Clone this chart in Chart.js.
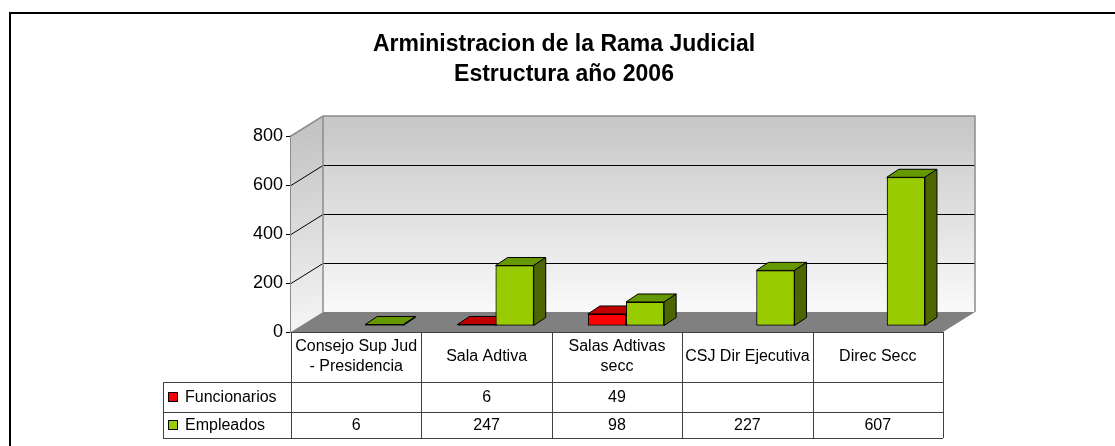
<!DOCTYPE html>
<html>
<head>
<meta charset="utf-8">
<script src="https://cdn.jsdelivr.net/npm/chart.js@4.4.1/dist/chart.umd.min.js"></script>
<style>
  body { margin: 0; background: #fff; }
</style>
</head>
<body>
<canvas id="myChart" width="1115" height="446"></canvas>
<script>
// datos del gráfico
const categories = [['Consejo Sup Jud', '- Presidencia'], 'Sala Adtiva', ['Salas Adtivas', 'secc'], 'CSJ Dir Ejecutiva', 'Direc Secc'];
const seriesNames = ['Funcionarios', 'Empleados'];
const funcionarios = [null, 6, 49, null, null];
const empleados = [6, 247, 98, 227, 607];
const yTicks = [0, 200, 400, 600, 800];
const titleLines = ['Arministracion de la Rama Judicial', 'Estructura año 2006'];

const FONT = 'Arial, "Liberation Sans", sans-serif';
const DEPTH_X = 32, DEPTH_Y = -20;  // profundidad de las paredes
const BAR_X = 9, BAR_Y = -6;        // desplazamiento del plano de barras
const BAR_DX = 12, BAR_DY = -8;     // profundidad de cada barra

const colors = {
  Funcionarios: { front: '#ff0000', top: '#c00000', side: '#800000' },
  Empleados: { front: '#99cc00', top: '#669900', side: '#4d6600' }
};

function poly(ctx, pts, fill, stroke) {
  ctx.beginPath();
  ctx.moveTo(pts[0][0], pts[0][1]);
  for (let i = 1; i < pts.length; i++) ctx.lineTo(pts[i][0], pts[i][1]);
  ctx.closePath();
  if (fill) { ctx.fillStyle = fill; ctx.fill(); }
  if (stroke) { ctx.strokeStyle = stroke; ctx.lineWidth = 1; ctx.stroke(); }
}

// paredes y piso
const wallsPlugin = {
  id: 'walls',
  beforeDatasetsDraw(chart) {
    const { ctx, chartArea: a, scales: { y } } = chart;
    const L = a.left, R = a.right, T = a.top, B = a.bottom;
    ctx.save();
    // pared lateral
    let g = ctx.createLinearGradient(L, T, L + DEPTH_X, B);
    g.addColorStop(0, '#c4c4c4');
    g.addColorStop(1, '#f6f6f6');
    poly(ctx, [[L, T], [L + DEPTH_X, T + DEPTH_Y], [L + DEPTH_X, B + DEPTH_Y], [L, B]], g);
    // pared del fondo
    g = ctx.createLinearGradient(0, T + DEPTH_Y, 0, B + DEPTH_Y);
    g.addColorStop(0, '#c6c6c6');
    g.addColorStop(1, '#fafafa');
    ctx.fillStyle = g;
    ctx.fillRect(L + DEPTH_X, T + DEPTH_Y, R - L, B - T);
    // lineas de division
    yTicks.forEach(v => {
      if (v === 0 || v === yTicks[yTicks.length - 1]) return;
      const py = Math.round(y.getPixelForValue(v)) + 0.5;
      ctx.beginPath();
      ctx.moveTo(L, py);
      ctx.lineTo(L + DEPTH_X, py + DEPTH_Y);
      ctx.lineTo(R + DEPTH_X, py + DEPTH_Y);
      ctx.strokeStyle = '#000';
      ctx.lineWidth = 1;
      ctx.stroke();
    });
    // borde de las paredes
    ctx.beginPath();
    ctx.moveTo(L, T);
    ctx.lineTo(L + DEPTH_X, T + DEPTH_Y);
    ctx.lineTo(R + DEPTH_X, T + DEPTH_Y);
    ctx.lineTo(R + DEPTH_X, B + DEPTH_Y);
    ctx.moveTo(L + DEPTH_X, T + DEPTH_Y);
    ctx.lineTo(L + DEPTH_X, B + DEPTH_Y);
    ctx.strokeStyle = '#8c8c8c';
    ctx.lineWidth = 1.5;
    ctx.stroke();
    // piso
    poly(ctx, [[L, B], [R, B], [R + DEPTH_X, B + DEPTH_Y], [L + DEPTH_X, B + DEPTH_Y]], '#808080');
    ctx.restore();
  }
};

// barras en 3D: se redibuja cada categoria de atras hacia adelante
const barsPlugin = {
  id: 'bars3d',
  beforeDatasetsDraw(chart) {
    chart.ctx.save();
    chart.ctx.translate(BAR_X, BAR_Y);
  },
  afterDatasetsDraw(chart) {
    const ctx = chart.ctx;
    categories.forEach((cat, i) => {
      chart.data.datasets.forEach((ds, d) => {
        if (ds.data[i] == null) return;
        const c = colors[ds.label];
        const bar = chart.getDatasetMeta(d).data[i];
        bar.draw(ctx);
        const l = bar.x - bar.width / 2, r = bar.x + bar.width / 2, t = bar.y, b = bar.base;
        poly(ctx, [[l, t], [r, t], [r + BAR_DX, t + BAR_DY], [l + BAR_DX, t + BAR_DY]], c.top, '#000');
        poly(ctx, [[r, t], [r + BAR_DX, t + BAR_DY], [r + BAR_DX, b + BAR_DY], [r, b]], c.side, '#000');
      });
    });
    ctx.restore();
  }
};

// tabla de datos
const tablePlugin = {
  id: 'dataTable',
  afterDraw(chart) {
    const { ctx, chartArea: a, scales: { x } } = chart;
    const step = x.getPixelForValue(1) - x.getPixelForValue(0);
    const top = a.bottom, headBottom = top + 50, row1 = headBottom + 30, row2 = row1 + 26;
    const legendLeft = a.left - 128;
    ctx.save();
    ctx.strokeStyle = '#404040';
    ctx.lineWidth = 1;
    ctx.beginPath();
    ctx.moveTo(a.left, top + 0.5); ctx.lineTo(a.right, top + 0.5);
    [headBottom, row1, row2].forEach(yy => {
      ctx.moveTo(legendLeft, yy + 0.5); ctx.lineTo(a.right, yy + 0.5);
    });
    ctx.moveTo(legendLeft + 0.5, headBottom); ctx.lineTo(legendLeft + 0.5, row2);
    for (let i = 0; i <= categories.length; i++) {
      const xx = Math.round(x.getPixelForValue(i) - step / 2) + 0.5;
      ctx.moveTo(xx, top); ctx.lineTo(xx, row2);
    }
    ctx.stroke();

    ctx.fillStyle = '#000';
    ctx.font = '16px ' + FONT;
    ctx.textAlign = 'center';
    ctx.textBaseline = 'middle';
    categories.forEach((cat, i) => {
      const cx = x.getPixelForValue(i);
      const lines = Array.isArray(cat) ? cat : [cat];
      const mid = (top + headBottom) / 2;
      lines.forEach((ln, k) => {
        ctx.fillText(ln, cx, mid + (k - (lines.length - 1) / 2) * 20);
      });
    });
    const rows = [funcionarios, empleados];
    const rowMid = [(headBottom + row1) / 2, (row1 + row2) / 2];
    rows.forEach((vals, r) => {
      vals.forEach((v, i) => {
        if (v == null) return;
        ctx.fillText(String(v), x.getPixelForValue(i), rowMid[r] + 1);
      });
      // leyenda
      const c = colors[seriesNames[r]];
      ctx.fillStyle = c.front;
      ctx.fillRect(legendLeft + 5.5, rowMid[r] - 4.5, 9, 9);
      ctx.strokeStyle = '#000';
      ctx.strokeRect(legendLeft + 5.5, rowMid[r] - 4.5, 9, 9);
      ctx.fillStyle = '#000';
      ctx.textAlign = 'left';
      ctx.fillText(seriesNames[r], legendLeft + 22, rowMid[r] + 1);
      ctx.textAlign = 'center';
    });
    // marco exterior
    ctx.strokeStyle = '#000';
    ctx.lineWidth = 2;
    ctx.beginPath();
    ctx.moveTo(10, chart.height);
    ctx.lineTo(10, 13);
    ctx.lineTo(chart.width, 13);
    ctx.stroke();
    ctx.restore();
  }
};

const ctx = document.getElementById('myChart');
const myChart = new Chart(ctx, {
  type: 'bar',
  data: {
    labels: categories,
    datasets: [
      {
        label: seriesNames[0],
        data: funcionarios,
        backgroundColor: colors.Funcionarios.front
      },
      {
        label: seriesNames[1],
        data: empleados,
        backgroundColor: colors.Empleados.front
      }
    ]
  },
  options: {
    responsive: false,
    animation: false,
    layout: { padding: { left: 185, right: 172, top: 0, bottom: 114 } },
    datasets: {
      bar: {
        borderColor: '#000',
        borderWidth: 1,
        borderSkipped: false,
        categoryPercentage: 0.585,
        barPercentage: 1,
        clip: false
      }
    },
    plugins: {
      legend: { display: false },
      tooltip: { enabled: false },
      title: {
        display: true,
        text: titleLines,
        color: '#000',
        font: { size: 23, weight: 'bold', family: FONT, lineHeight: 30 / 23 },
        padding: { top: 30, bottom: 46 }
      }
    },
    scales: {
      x: { display: false },
      y: {
        min: 0,
        max: 800,
        afterFit(scale) { scale.width = 106; },
        afterBuildTicks(scale) { scale.ticks = yTicks.map(v => ({ value: v })); },
        ticks: { color: '#000', font: { size: 18, family: FONT }, padding: 3 },
        grid: { drawOnChartArea: false, tickLength: 5, tickColor: '#000' },
        border: { color: '#8c8c8c', width: 1.5 }
      }
    }
  },
  plugins: [wallsPlugin, barsPlugin, tablePlugin]
});
</script>
</body>
</html>
